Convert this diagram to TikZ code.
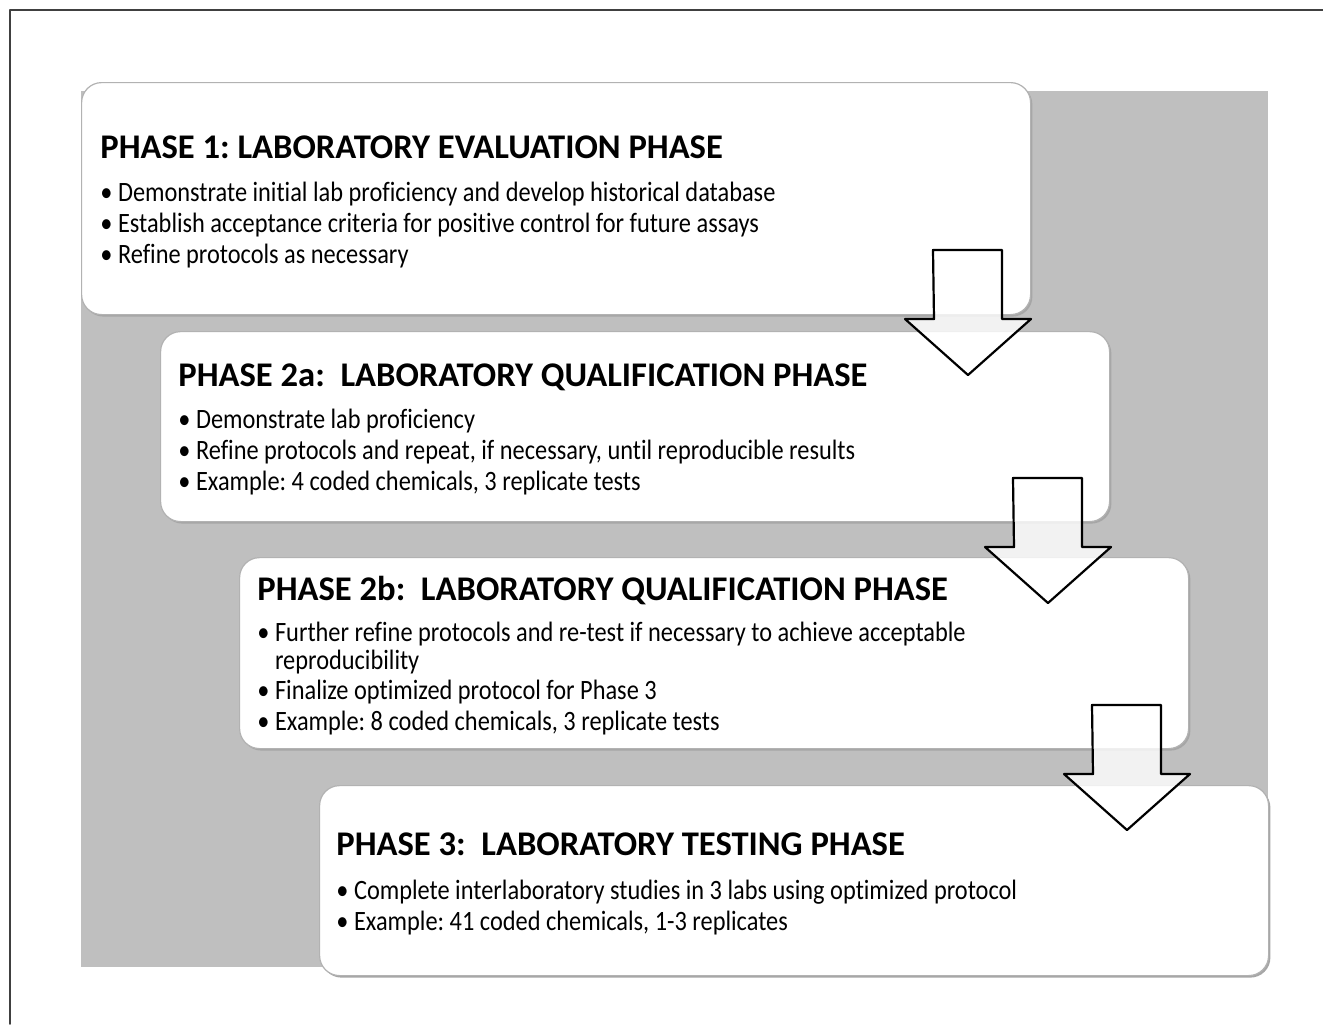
\documentclass[tikz,border=0pt]{standalone}
\usepackage{fontspec}
\setmainfont{Carlito}[Ligatures=CommonOff]
\newfontfamily\itemfont[FakeStretch=0.87,Ligatures=CommonOff]{Carlito}
\usetikzlibrary{positioning,shadows}
\definecolor{bggray}{RGB}{191,191,191}
\frenchspacing
\begin{document}
\begin{tikzpicture}[x=0.5pt,y=-0.5pt, line join=round, line cap=round]
\tikzset{
  phasebox/.style={draw=gray!60, line width=0.6pt, fill=white, rounded corners=10pt,
    anchor=north west, minimum width=474.5pt, inner sep=0pt,
    drop shadow={shadow xshift=0.9pt, shadow yshift=-1pt, fill=gray!70, opacity=1}},
  phasetitle/.style={anchor=base west, inner sep=0pt, font=\bfseries\fontsize{17.3}{20}\selectfont},
  phaseitem/.style={anchor=base west, inner sep=0pt, font=\itemfont\fontsize{14}{15.5}\selectfont},
  downarrow/.style={draw=black, line width=1.1pt, fill=white, fill opacity=0.8}
}
\useasboundingbox (0,0) rectangle (1323,1024);
% frame and backdrop
\draw[line width=0.9pt, black!75] (10,1024) -- (10,10) -- (1323,10);
\fill[bggray] (81,91) rectangle (1268,967);
% phase boxes
\node[phasebox, minimum height=116pt] (p1) at (81,82) {};
\node[phasebox, minimum height=95pt] (p2) at (160,331) {};
\node[phasebox, minimum height=95.5pt] (p3) at (239,557) {};
\node[phasebox, minimum height=95pt] (p4) at (319,785) {};
% titles
\node[phasetitle] (t1) at ([shift={(19,76)}]p1.north west) {PHASE 1: LABORATORY EVALUATION PHASE};
\node[phasetitle] (t2) at ([shift={(18,55)}]p2.north west) {PHASE 2a:~ LABORATORY QUALIFICATION PHASE};
\node[phasetitle] (t3) at ([shift={(18,43)}]p3.north west) {PHASE 2b:~ LABORATORY QUALIFICATION PHASE};
\node[phasetitle] (t4) at ([shift={(17,70)}]p4.north west) {PHASE 3:~ LABORATORY TESTING PHASE};
% bullet lines
\foreach \txt [count=\i] in {Demonstrate initial lab proficiency and develop historical database,
    Establish acceptance criteria for positive control for future assays,
    Refine protocols as necessary}
  \node[phaseitem] (a\i) at ([shift={(19,88+31*\i)}]p1.north west) {\textbullet\ \txt};
\foreach \txt [count=\i] in {Demonstrate lab proficiency,
    {Refine protocols and repeat, if necessary, until reproducible results},
    {Example: 4 coded chemicals, 3 replicate tests}}
  \node[phaseitem] (b\i) at ([shift={(18,66+31*\i)}]p2.north west) {\textbullet\ \txt};
\node[phaseitem] (c1) at ([shift={(18,84)}]p3.north west)
  {\textbullet\ \parbox[t]{400pt}{\fontsize{14}{14}\selectfont Further refine protocols and re-test if necessary to achieve acceptable\\reproducibility}};
\node[phaseitem] (c2) at ([shift={(18,142)}]p3.north west) {\textbullet\ Finalize optimized protocol for Phase 3};
\node[phaseitem] (c3) at ([shift={(18,173)}]p3.north west) {\textbullet\ Example: 8 coded chemicals, 3 replicate tests};
\node[phaseitem] (d1) at ([shift={(17,114)}]p4.north west) {\textbullet\ Complete interlaboratory studies in 3 labs using optimized protocol};
\node[phaseitem] (d2) at ([shift={(17,145)}]p4.north west) {\textbullet\ Example: 41 coded chemicals, 1-3 replicates};
% block arrows between phases
\foreach \ax/\ay [count=\k] in {933/250, 1013/478, 1092/705}
  \draw[downarrow] (\ax,\ay) -- ++(69,0) -- ++(0,69) -- ++(29,0) -- ++(-63,56)
    -- ++(-63,-56) -- ++(29,0) -- cycle;
\end{tikzpicture}
\end{document}
